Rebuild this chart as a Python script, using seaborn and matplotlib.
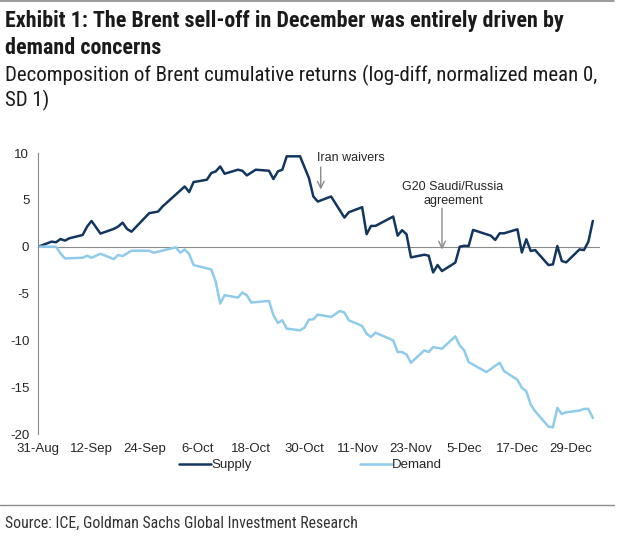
import pandas as pd
import matplotlib
matplotlib.use('Agg')
import matplotlib.pyplot as plt
import seaborn as sns
from matplotlib import font_manager
from matplotlib.lines import Line2D

# 데이터
supply_dates = ['2018-08-31', '2018-09-03', '2018-09-04', '2018-09-05', '2018-09-06', '2018-09-07',
                '2018-09-10', '2018-09-11', '2018-09-12', '2018-09-14', '2018-09-17', '2018-09-18',
                '2018-09-19', '2018-09-20', '2018-09-21', '2018-09-25', '2018-09-27', '2018-09-28',
                '2018-10-03', '2018-10-04', '2018-10-05', '2018-10-08', '2018-10-09', '2018-10-10',
                '2018-10-11', '2018-10-12', '2018-10-15', '2018-10-16', '2018-10-17', '2018-10-19',
                '2018-10-22', '2018-10-23', '2018-10-24', '2018-10-25', '2018-10-26', '2018-10-29',
                '2018-10-31', '2018-11-01', '2018-11-02', '2018-11-05', '2018-11-08', '2018-11-09',
                '2018-11-12', '2018-11-13', '2018-11-14', '2018-11-15', '2018-11-19', '2018-11-20',
                '2018-11-21', '2018-11-22', '2018-11-23', '2018-11-26', '2018-11-27', '2018-11-28',
                '2018-11-29', '2018-11-30', '2018-12-03', '2018-12-04', '2018-12-05', '2018-12-06',
                '2018-12-07', '2018-12-10', '2018-12-11', '2018-12-12', '2018-12-13', '2018-12-14',
                '2018-12-17', '2018-12-18', '2018-12-19', '2018-12-20', '2018-12-21', '2018-12-24',
                '2018-12-25', '2018-12-26', '2018-12-27', '2018-12-28', '2018-12-31', '2019-01-01',
                '2019-01-02', '2019-01-03']
supply_vals = [0, 0.54, 0.47, 0.82, 0.65, 0.9,
               1.25, 2.15, 2.75, 1.4, 1.9, 2.15,
               2.57, 1.9, 1.6, 3.58, 3.75, 4.29,
               6.43, 5.83, 6.9, 7.15, 7.87, 8.04,
               8.57, 7.79, 8.22, 8.11, 7.61, 8.22,
               8.11, 7.22, 8.04, 8.22, 9.65, 9.65,
               7.33, 5.36, 4.82, 5.36, 3.11, 3.68,
               4.22, 1.33, 2.22, 2.22, 3.22, 1.18,
               1.76, 1.33, -1.14, -0.86, -0.96, -2.75,
               -1.96, -2.6, -1.7, 0, 0.1, 0.07,
               1.79, 1.33, 1.18, 0.72, 1.43, 1.43,
               1.86, -0.61, 0.79, -0.46, -0.36, -1.96,
               -1.89, 0.07, -1.53, -1.67, -0.29, -0.36,
               0.54, 2.75]

demand_dates = ['2018-08-31', '2018-09-04', '2018-09-05', '2018-09-06', '2018-09-10', '2018-09-11',
                '2018-09-12', '2018-09-14', '2018-09-17', '2018-09-18', '2018-09-19', '2018-09-21',
                '2018-09-25', '2018-09-26', '2018-10-01', '2018-10-02', '2018-10-03', '2018-10-04',
                '2018-10-05', '2018-10-09', '2018-10-10', '2018-10-11', '2018-10-12', '2018-10-15',
                '2018-10-16', '2018-10-17', '2018-10-18', '2018-10-22', '2018-10-23', '2018-10-24',
                '2018-10-25', '2018-10-26', '2018-10-29', '2018-10-30', '2018-10-31', '2018-11-01',
                '2018-11-02', '2018-11-05', '2018-11-07', '2018-11-08', '2018-11-09', '2018-11-12',
                '2018-11-13', '2018-11-14', '2018-11-15', '2018-11-19', '2018-11-20', '2018-11-21',
                '2018-11-22', '2018-11-23', '2018-11-26', '2018-11-27', '2018-11-28', '2018-11-30',
                '2018-12-03', '2018-12-04', '2018-12-05', '2018-12-06', '2018-12-10', '2018-12-13',
                '2018-12-14', '2018-12-17', '2018-12-18', '2018-12-19', '2018-12-20', '2018-12-21',
                '2018-12-24', '2018-12-25', '2018-12-26', '2018-12-27', '2018-12-28', '2018-12-31',
                '2019-01-01', '2019-01-02', '2019-01-03']
demand_vals = [0, 0, -0.71, -1.25, -1.18, -0.96,
               -1.18, -0.75, -1.32, -0.89, -1.0, -0.43,
               -0.43, -0.64, -0.07, -0.64, -0.29, -0.79,
               -1.96, -2.43, -3.75, -6.07, -5.18, -5.43,
               -4.89, -5.18, -5.96, -5.79, -7.32, -8.14,
               -7.86, -8.75, -8.93, -8.64, -7.79, -7.75,
               -7.25, -7.5, -6.86, -7.04, -7.86, -8.46,
               -9.29, -9.64, -9.18, -10.0, -11.25, -11.25,
               -11.5, -12.39, -11.07, -11.25, -10.72, -10.89,
               -9.57, -10.54, -11.07, -12.32, -13.39, -12.39,
               -13.29, -14.21, -15.07, -15.43, -16.86, -17.57,
               -19.21, -19.29, -17.21, -17.86, -17.68, -17.5,
               -17.32, -17.32, -18.29]

tick_dates = ['2018-08-31', '2018-09-12', '2018-09-24', '2018-10-06', '2018-10-18', '2018-10-30',
              '2018-11-11', '2018-11-23', '2018-12-05', '2018-12-17', '2018-12-29']
tick_labels = ['31-Aug', '12-Sep', '24-Sep', '6-Oct', '18-Oct', '30-Oct',
               '11-Nov', '23-Nov', '5-Dec', '17-Dec', '29-Dec']

SUPPLY_COLOR = '#12365E'
DEMAND_COLOR = '#8FCBEB'
GREY = '#8A8A8A'

# 폰트
installed = {f.name for f in font_manager.fontManager.ttflist}
def pick(names):
    for n in names:
        if n in installed:
            return n
    return 'DejaVu Sans'

narrow = pick(['Liberation Sans Narrow', 'Roboto Condensed', 'DejaVu Sans Condensed', 'Liberation Sans'])
arial = pick(['Liberation Sans', 'Arial', 'DejaVu Sans'])

sns.set_style('white')
plt.rcParams['font.family'] = [arial, 'DejaVu Sans']
plt.rcParams['axes.unicode_minus'] = False

df = pd.concat([
    pd.DataFrame({'date': pd.to_datetime(supply_dates), 'value': supply_vals, 'series': 'Supply'}),
    pd.DataFrame({'date': pd.to_datetime(demand_dates), 'value': demand_vals, 'series': 'Demand'}),
])

fig = plt.figure(figsize=(6.25, 5.37), dpi=100)
ax = fig.add_axes([0.0613, 0.1918, 0.8967, 0.5232])

sns.lineplot(data=df, x='date', y='value', hue='series', estimator=None,
             palette={'Supply': SUPPLY_COLOR, 'Demand': DEMAND_COLOR},
             linewidth=1.8, ax=ax)

ax.set_ylim(-20, 10)
ax.set_xlim(pd.Timestamp('2018-08-31'), pd.Timestamp('2019-01-04 08:00'))
ax.set_yticks([10, 5, 0, -5, -10, -15, -20])
ax.set_xticks(pd.to_datetime(tick_dates))
ax.set_xticklabels(tick_labels)
ax.set_xlabel('')
ax.set_ylabel('')

for s in ['top', 'right']:
    ax.spines[s].set_visible(False)
ax.spines['left'].set_color(GREY)
ax.spines['bottom'].set_color(GREY)
ax.spines['bottom'].set_position(('data', 0))
ax.spines['bottom'].set_zorder(0)
ax.tick_params(axis='y', direction='out', length=3.5, width=0.8, color=GREY, pad=3, labelsize=9.5)
ax.tick_params(axis='x', direction='out', length=3, width=0.8, color=GREY, pad=138, labelsize=9.5)

# 주석
arrow = dict(arrowstyle='->', color=GREY, lw=1, mutation_scale=12, shrinkA=0, shrinkB=0)
ax.annotate('', xy=(pd.Timestamp('2018-11-02 16:00'), 6.1), xytext=(pd.Timestamp('2018-11-02 16:00'), 8.5),
            arrowprops=arrow)
ax.text(pd.Timestamp('2018-11-09 10:00'), 9.45, 'Iran waivers', ha='center', va='center', fontsize=9)
ax.annotate('', xy=(pd.Timestamp('2018-11-30'), -0.3), xytext=(pd.Timestamp('2018-11-30'), 4.1),
            arrowprops=arrow)
ax.text(pd.Timestamp('2018-12-02 12:00'), 5.6, 'G20 Saudi/Russia\nagreement', ha='center', va='center',
        fontsize=9, linespacing=1.25)

ax.legend(loc='center', bbox_to_anchor=(0.497, 0.134), bbox_transform=fig.transFigure, ncol=2,
          frameon=False, handlelength=2.4, handletextpad=0.05, columnspacing=8.2, fontsize=9.5)

# 제목
fig.text(0.008, 1 - 21 / 537, 'Exhibit 1: The Brent sell-off in December was entirely driven by',
         family=narrow, fontweight='bold', fontsize=15.8, va='center', color='#1a1a1a')
fig.text(0.008, 1 - 48 / 537, 'demand concerns',
         family=narrow, fontweight='bold', fontsize=15.8, va='center', color='#1a1a1a')
fig.text(0.008, 1 - 75 / 537, 'Decomposition of Brent cumulative returns (log-diff, normalized mean 0,',
         family=narrow, fontsize=15, va='center', color='#1a1a1a')
fig.text(0.008, 1 - 100 / 537, 'SD 1)', family=narrow, fontsize=15, va='center', color='#1a1a1a')
fig.text(0.008, 1 - 523 / 537, 'Source: ICE, Goldman Sachs Global Investment Research',
         family=narrow, fontsize=11.3, va='center', color='#333333')

fig.add_artist(Line2D([0, 0.982], [0.998, 0.998], transform=fig.transFigure, color=GREY, lw=1.2))
fig.add_artist(Line2D([0, 0.982], [1 - 505 / 537, 1 - 505 / 537], transform=fig.transFigure, color=GREY, lw=1))

fig.savefig('out.png', dpi=100)
